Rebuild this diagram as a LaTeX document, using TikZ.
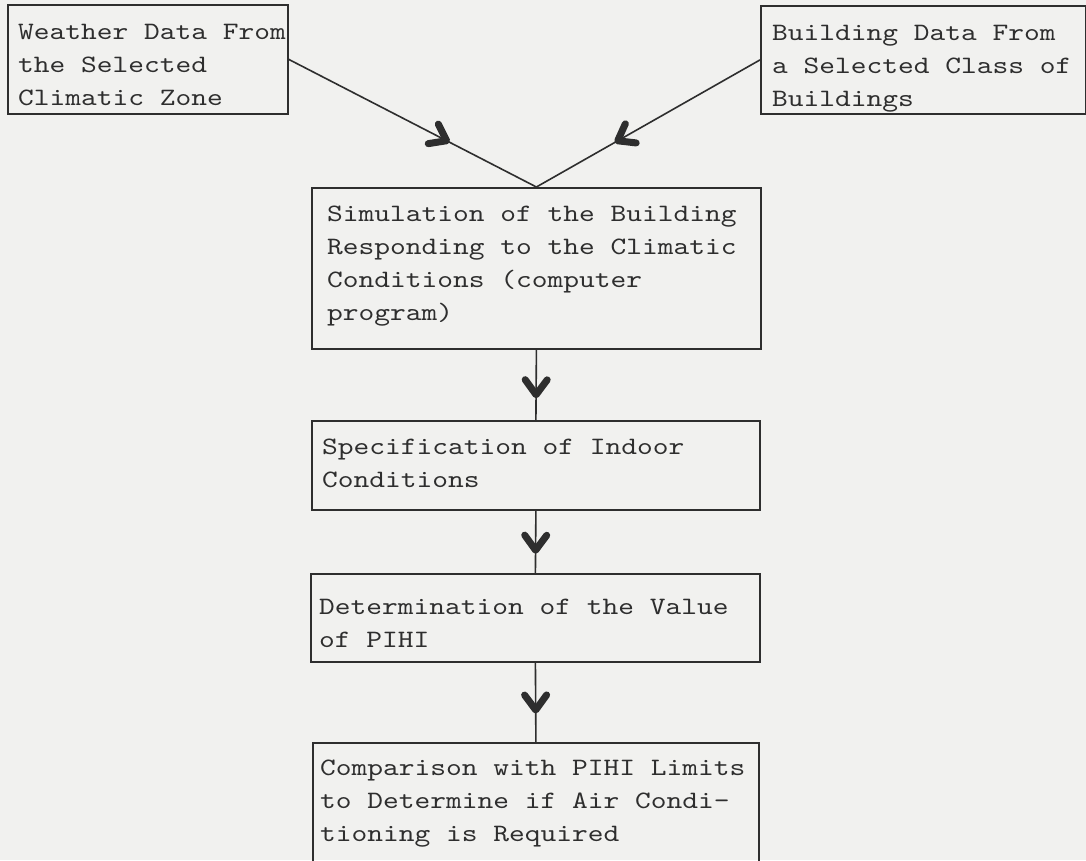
\documentclass[tikz,border=0pt]{standalone}
\usepackage{fontspec}
\setmonofont{lmmono10-regular.otf}[FakeStretch=1.2]
\usetikzlibrary{arrows.meta,decorations.markings}
\definecolor{paper}{HTML}{F1F1EF}
\definecolor{ink}{HTML}{2E2E2E}
\tikzset{
  box/.style={draw=ink, line width=1.8pt, rectangle, inner sep=0pt, anchor=north west},
  txt/.style={text=ink, font=\ttfamily\fontsize{25}{33}\selectfont, align=left, inner sep=0pt, anchor=base west},
  flow/.style={draw=ink, line width=1.6pt, postaction={decorate},
    decoration={markings, mark=at position #1 with {\arrow{Straight Barb[length=15pt,width=22pt,line width=7pt,round]}}}},
}
\begin{document}
\begin{tikzpicture}[x=1pt,y=-1pt]
\useasboundingbox (0,0) rectangle (1086,860);
\fill[paper] (0,0) rectangle (1086,860);
\clip (0,0) rectangle (1086,860);
% boxes
\node[box, minimum width=280pt, minimum height=109pt] (weather) at (7,4) {};
\node[box, minimum width=325pt, minimum height=108pt] (build) at (760,5) {};
\node[box, minimum width=449pt, minimum height=161pt] (sim) at (311,187) {};
\node[box, minimum width=448pt, minimum height=89pt] (spec) at (311,420) {};
\node[box, minimum width=449pt, minimum height=88pt] (det) at (310,573) {};
\node[box, minimum width=446pt, minimum height=140pt] (comp) at (312,742) {};
% texts (positioned at the baseline of the last line)
\node[txt] (tw) at (18,105) {Weather Data From\\the Selected\\Climatic Zone};
\node[txt] (tb) at (772,106) {Building Data From\\a Selected Class of\\Buildings};
\node[txt] (ts) at (327,320) {Simulation of the Building\\Responding to the Climatic\\Conditions (computer\\program)};
\node[txt] (tp) at (322,487) {Specification of Indoor\\Conditions};
\node[txt] (td) at (319,647) {Determination of the Value\\of PIHI};
\node[txt] (tc) at (320,841) {Comparison with PIHI Limits\\to Determine if Air Condi-\\tioning is Required};
% connectors
\draw[flow=0.65] (weather.east) -- (sim.north);
\draw[flow=0.65] (build.west) -- (sim.north);
\draw[flow=0.69] (sim.south) -- (spec.north);
\draw[flow=0.69] (spec.south) -- (det.north);
\draw[flow=0.64] (det.south) -- (comp.north);
\end{tikzpicture}
\end{document}
